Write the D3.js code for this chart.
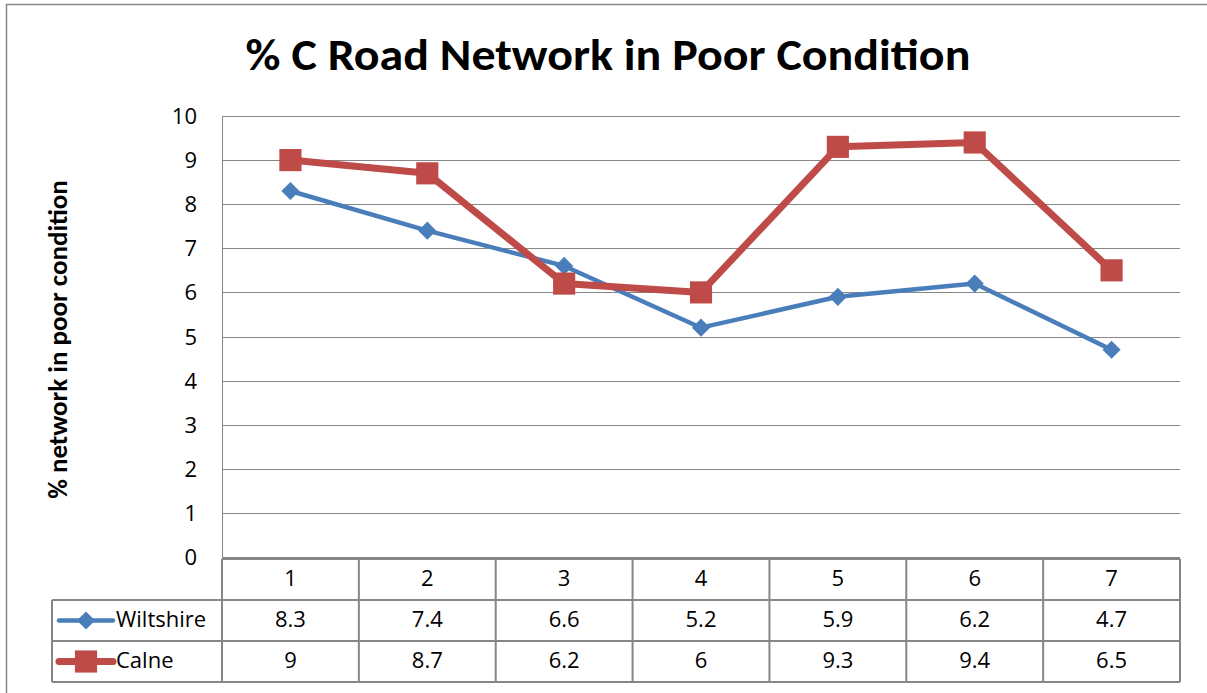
<!DOCTYPE html>
<html>
<head>
<meta charset="utf-8">
<script src="https://cdnjs.cloudflare.com/ajax/libs/d3/7.8.5/d3.min.js"></script>
<style>
  body { margin: 0; background: #fff; }
  svg text { font-family: Carlito, Calibri, Lato, sans-serif; fill: #000; }
  svg text.small { font-family: "Open Sans", sans-serif; }
</style>
</head>
<body>
<svg id="chart" width="1207" height="693"></svg>
<script>
const categories = ['1', '2', '3', '4', '5', '6', '7'];
const wiltshire = [8.3, 7.4, 6.6, 5.2, 5.9, 6.2, 4.7];
const calne = [9, 8.7, 6.2, 6, 9.3, 9.4, 6.5];
const yTicks = [0, 1, 2, 3, 4, 5, 6, 7, 8, 9, 10];

const series = [
  { name: 'Wiltshire', values: wiltshire, color: '#4A7EBB', width: 4.5, symbol: d3.symbolDiamond2, size: 210 },
  { name: 'Calne', values: calne, color: '#BE4B48', width: 7, symbol: d3.symbolSquare2, size: 625 }
];

const svg = d3.select('#chart');
const margin = { left: 222, right: 1180, top: 116, bottom: 557 };
const rowH = 41;
const gridColor = '#868686';

function label(g, px, py, str, anchor) {
  return g.append('text')
    .attr('class', 'small')
    .attr('x', px).attr('y', py)
    .attr('text-anchor', anchor || 'middle')
    .style('font-size', '22px')
    .text(str);
}

// outer frame
svg.append('rect')
  .attr('x', 6.5).attr('y', 4.5)
  .attr('width', 1207).attr('height', 700)
  .attr('fill', 'none')
  .attr('stroke', gridColor)
  .attr('stroke-width', 1.5);

svg.append('text')
  .attr('transform', 'translate(608,70) scale(1.09,1)')
  .attr('text-anchor', 'middle')
  .style('font-size', '44px')
  .style('font-weight', 'bold')
  .text('% C Road Network in Poor Condition');

const x = d3.scaleBand()
  .domain(categories)
  .range([margin.left, margin.right]);

const y = d3.scaleLinear()
  .domain([0, 10])
  .range([margin.bottom, margin.top]);

// gridlines
svg.append('g')
  .selectAll('line')
  .data(yTicks)
  .enter()
  .append('line')
  .attr('x1', margin.left).attr('x2', margin.right)
  .attr('y1', d => Math.round(y(d)) + 0.5)
  .attr('y2', d => Math.round(y(d)) + 0.5)
  .attr('stroke', gridColor)
  .attr('stroke-width', 1);

// y axis line + tick labels
svg.append('line')
  .attr('x1', margin.left + 0.5).attr('x2', margin.left + 0.5)
  .attr('y1', margin.top).attr('y2', margin.bottom)
  .attr('stroke', gridColor);
const tickG = svg.append('g');
yTicks.forEach(t => label(tickG, 197, y(t) + 8, t, 'end'));

svg.append('text')
  .attr('transform', `translate(67,${(margin.top + margin.bottom) / 2 + 3}) rotate(-90)`)
  .attr('text-anchor', 'middle')
  .style('font-size', '27px')
  .style('font-weight', 'bold')
  .text('% network in poor condition');

// data table
const tableTop = margin.bottom + 2;
const legendLeft = 52;
const table = svg.append('g')
  .attr('fill', 'none')
  .attr('stroke', gridColor)
  .attr('stroke-width', 2);

table.append('line')
  .attr('x1', margin.left).attr('x2', margin.right)
  .attr('y1', tableTop).attr('y2', tableTop);
[1, 2, 3].forEach(r => {
  table.append('line')
    .attr('x1', legendLeft)
    .attr('x2', margin.right)
    .attr('y1', tableTop + rowH * r).attr('y2', tableTop + rowH * r);
});
table.append('line')
  .attr('x1', legendLeft).attr('x2', legendLeft)
  .attr('y1', tableTop + rowH).attr('y2', tableTop + rowH * 3);
categories.concat(['end']).forEach((c, i) => {
  const xx = margin.left + x.bandwidth() * i;
  table.append('line')
    .attr('x1', xx).attr('x2', xx)
    .attr('y1', tableTop).attr('y2', tableTop + rowH * 3);
});

const catG = svg.append('g');
categories.forEach(c => label(catG, x(c) + x.bandwidth() / 2, tableTop + rowH / 2 + 6, c));

series.forEach((s, si) => {
  const rowY = tableTop + rowH * (si + 1) + rowH / 2;
  const rowG = svg.append('g');
  s.values.forEach((v, i) => {
    label(rowG, x(categories[i]) + x.bandwidth() / 2, rowY + 6, v);
  });

  // legend key
  svg.append('line')
    .attr('x1', 59).attr('x2', 113)
    .attr('y1', rowY).attr('y2', rowY)
    .attr('stroke', s.color)
    .attr('stroke-width', s.width)
    .attr('stroke-linecap', 'round');
  svg.append('path')
    .attr('d', d3.symbol().type(s.symbol).size(s.size)())
    .attr('transform', `translate(86,${rowY})`)
    .attr('fill', s.color);
  label(rowG, 116, rowY + 6, s.name, 'start');
});

// lines and markers
const line = d3.line()
  .x((d, i) => x(categories[i]) + x.bandwidth() / 2)
  .y(d => y(d));

series.forEach(s => {
  svg.append('path')
    .datum(s.values)
    .attr('d', line)
    .attr('fill', 'none')
    .attr('stroke', s.color)
    .attr('stroke-width', s.width)
    .attr('stroke-linejoin', 'round');

  svg.append('g')
    .selectAll('path')
    .data(s.values)
    .enter()
    .append('path')
    .attr('d', d3.symbol().type(s.symbol).size(s.size)())
    .attr('transform', (d, i) => `translate(${x(categories[i]) + x.bandwidth() / 2},${y(d)})`)
    .attr('fill', s.color);
});
</script>
</body>
</html>
